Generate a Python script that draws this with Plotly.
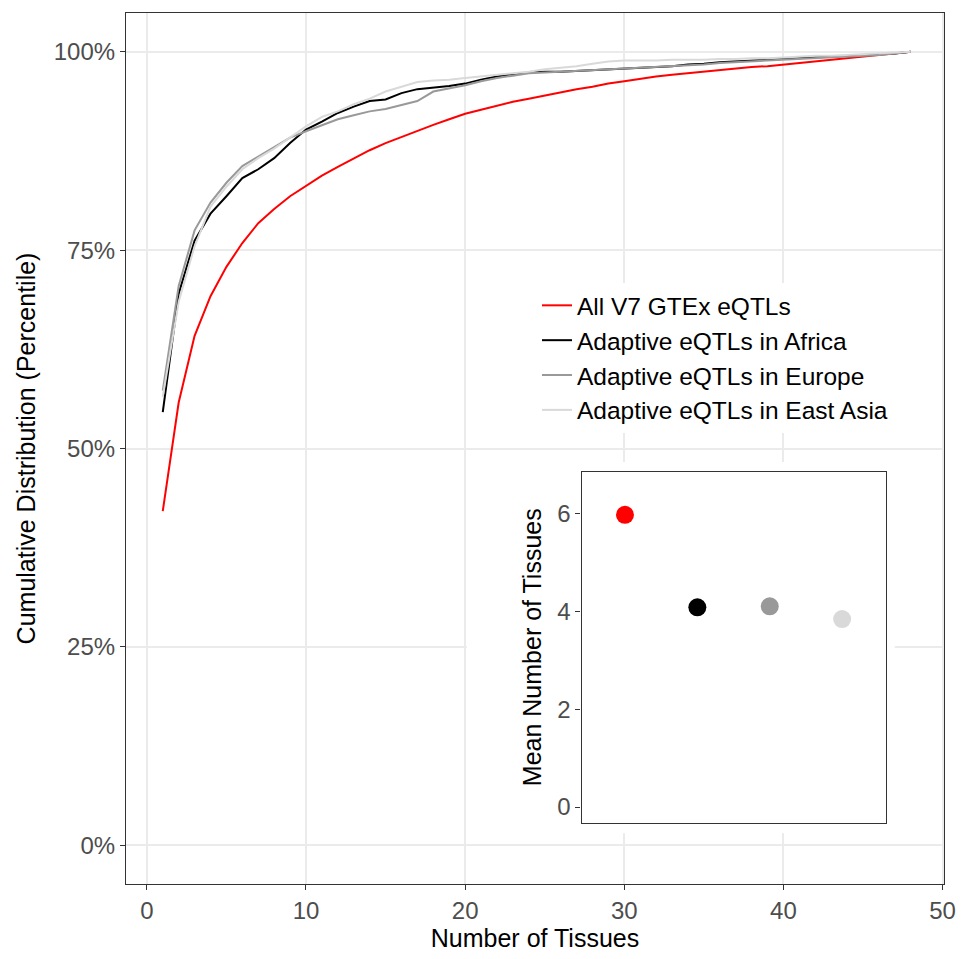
import plotly.graph_objects as go

# ---------------- data ----------------
tissues = list(range(1, 49))

all_v7 = [42.1, 55.8, 64.2, 69.2, 72.9, 75.9, 78.4, 80.2, 81.8, 83.1,
          84.4, 85.5, 86.6, 87.6, 88.5, 89.3, 90.1, 90.8, 91.5, 92.2,
          92.7, 93.2, 93.7, 94.1, 94.5, 94.9, 95.3, 95.6, 96.0, 96.3,
          96.6, 96.9, 97.1, 97.3, 97.5, 97.7, 97.9, 98.1, 98.2, 98.4,
          98.6, 98.8, 99.0, 99.2, 99.4, 99.6, 99.8, 100.0]

africa = [54.6, 69.5, 76.2, 79.6, 81.8, 84.1, 85.2, 86.6, 88.5, 90.2,
          91.2, 92.3, 93.1, 93.8, 94.0, 94.8, 95.3, 95.5, 95.7, 96.0,
          96.5, 96.9, 97.2, 97.4, 97.5, 97.5, 97.6, 97.7, 97.8, 97.9,
          98.0, 98.1, 98.2, 98.4, 98.5, 98.7, 98.8, 98.9, 99.0, 99.1,
          99.2, 99.3, 99.4, 99.5, 99.6, 99.7, 99.8, 100.0]

europe = [57.3, 70.5, 77.5, 81.0, 83.5, 85.6, 86.8, 88.0, 89.2, 90.0,
          90.7, 91.5, 92.0, 92.5, 92.8, 93.3, 93.8, 95.0, 95.4, 95.8,
          96.3, 96.7, 97.0, 97.3, 97.4, 97.5, 97.6, 97.7, 97.8, 97.9,
          98.0, 98.1, 98.2, 98.3, 98.4, 98.6, 98.7, 98.8, 98.9, 99.0,
          99.1, 99.2, 99.3, 99.4, 99.5, 99.6, 99.8, 100.0]

east_asia = [56.5, 68.5, 75.5, 80.5, 83.0, 85.2, 86.6, 87.8, 89.2, 90.6,
             91.8, 92.5, 93.4, 94.1, 95.0, 95.6, 96.2, 96.4, 96.5, 96.7,
             96.9, 97.1, 97.3, 97.5, 97.8, 98.0, 98.2, 98.5, 98.8, 98.9,
             98.9, 98.9, 99.0, 99.0, 99.0, 99.1, 99.1, 99.2, 99.2, 99.3,
             99.4, 99.5, 99.5, 99.6, 99.7, 99.8, 99.9, 100.0]

series_names = ["All V7 GTEx eQTLs", "Adaptive eQTLs in Africa",
                "Adaptive eQTLs in Europe", "Adaptive eQTLs in East Asia"]
series_values = [all_v7, africa, europe, east_asia]
series_colors = ["#ff0000", "#000000", "#999999", "#d9d9d9"]

inset_positions = [1, 2, 3, 4]
mean_tissues = [5.97, 4.08, 4.10, 3.84]

y_tickvals = [0, 25, 50, 75, 100]
y_ticktext = ["0%", "25%", "50%", "75%", "100%"]
x_tickvals = [0, 10, 20, 30, 40, 50]
inset_y_tickvals = [0, 2, 4, 6]

# ---------------- figure ----------------
FONT = "Liberation Sans, Arial, Helvetica, sans-serif"
fig = go.Figure()

for i, (name, vals, col) in enumerate(zip(series_names, series_values, series_colors)):
    fig.add_trace(go.Scatter(
        x=tissues, y=vals, mode="lines", name=name,
        line=dict(color=col, width=2),
        legendgroup="g%d" % i,
        xaxis="x", yaxis="y",
    ))

fig.add_trace(go.Scatter(
    x=inset_positions, y=mean_tissues, mode="markers",
    marker=dict(color=series_colors, size=18, line=dict(width=0)),
    showlegend=False, xaxis="x2", yaxis="y2",
))

W, H = 968, 959
ml, mr, mt, mb = 126, 16, 13, 65
PL, PT = ml, mt
PW, PH = W - ml - mr, H - mt - mb

def xdom(a, b):
    return [(a - PL) / PW, (b - PL) / PW]

def ydom(top, bottom):
    return [(PT + PH - bottom) / PH, (PT + PH - top) / PH]

TICKFONT = dict(family=FONT, size=24, color="#4d4d4d")
TITLEFONT = dict(family=FONT, size=25, color="black")

axis_common = dict(
    showline=True, linecolor="#333333", linewidth=1.2, mirror=True,
    zeroline=False, ticks="outside", ticklen=5, tickwidth=1.1,
    tickcolor="#333333", tickfont=TICKFONT,
)

fig.update_layout(
    width=W, height=H,
    margin=dict(l=ml, r=mr, t=mt, b=mb, pad=0),
    paper_bgcolor="white", plot_bgcolor="white",
    font=dict(family=FONT, color="black"),
    xaxis=dict(
        **axis_common, domain=[0, 1], range=[-1.31, 50.09],
        tickvals=x_tickvals, showgrid=True, gridcolor="#ebebeb", gridwidth=2,
        ticklabeloverflow="allow",
        title=dict(text="Number of Tissues", font=TITLEFONT, standoff=6),
    ),
    yaxis=dict(
        **axis_common, domain=[0, 1], range=[-4.9, 104.9],
        tickvals=y_tickvals, ticktext=y_ticktext,
        showgrid=True, gridcolor="#ebebeb", gridwidth=2,
        title=dict(text="Cumulative Distribution (Percentile)", font=TITLEFONT, standoff=10),
    ),
    xaxis2=dict(
        showline=True, linecolor="#333333", linewidth=1.2, mirror=True,
        zeroline=False, showgrid=False, showticklabels=False, ticks="",
        domain=xdom(586, 893), range=[0.4, 4.6], anchor="y2",
    ),
    yaxis2=dict(
        **axis_common, showgrid=False,
        domain=ydom(477, 832), range=[-0.32, 6.85], anchor="x2",
        tickvals=inset_y_tickvals,
        title=dict(text="Mean Number of Tissues", font=TITLEFONT, standoff=8),
    ),
    legend=dict(
        x=(541 - PL) / PW, y=(PT + PH - 286) / PH, xanchor="left", yanchor="top",
        bgcolor="white", borderwidth=0,
        font=dict(family=FONT, size=24.5, color="black"),
        traceorder="grouped", tracegroupgap=0,
    ),
    showlegend=True,
    shapes=[dict(
        type="rect", xref="x", yref="y", layer="between",
        x0=20.1, x1=47.0, y0=1.5, y1=48.3,
        fillcolor="white", line=dict(width=0),
    )],
)

fig.write_html("out.html")
